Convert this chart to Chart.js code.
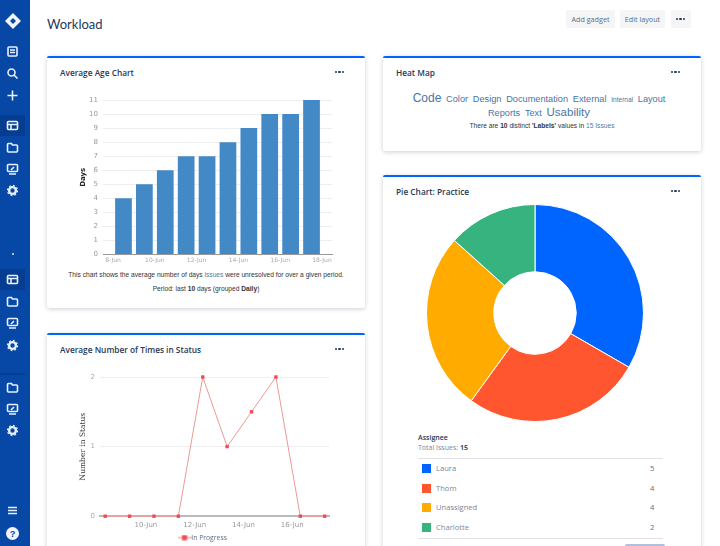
<!DOCTYPE html>
<html><head><meta charset="utf-8">
<script src="https://cdn.jsdelivr.net/npm/chart.js@4"></script>
<style>
html,body{margin:0;padding:0;width:720px;height:546px;overflow:hidden;background:#fff;font-family:"Liberation Sans",Arial,sans-serif;color:#172b4d}
.abs,canvas{position:absolute}
#side{position:absolute;left:0;top:0;width:30px;height:546px;background:#0747a6}
.hl{position:absolute;left:0;width:25px;height:21px;background:#063d90}
.ic{position:absolute;left:6px;width:13px;height:13px;fill:none;stroke:#e8f0fb;stroke-width:1.6}
.card{position:absolute;background:#fff;border-top:2px solid #0065ff;border-radius:2px;box-shadow:0 1px 4px rgba(9,30,66,.22);box-sizing:border-box}
.title{position:absolute;font:600 8.3px "Open Sans",sans-serif;color:#253858;white-space:nowrap}
.dots{position:absolute;width:9px;height:3px;display:flex;justify-content:space-between}
.dots i{width:2.2px;height:2.2px;border-radius:50%;background:#253858;display:block}
.btn{position:absolute;top:10px;height:18px;background:#f4f5f7;border-radius:2px;font:7.2px/18px "Open Sans",sans-serif;color:#5e6c84;text-align:center}
.cap{position:absolute;font:6.65px "Liberation Sans",sans-serif;color:#333;text-align:center;white-space:nowrap}
.cap a{color:#4a7ba6}
#cloud{position:absolute;left:393px;top:91px;width:292px;text-align:center;line-height:11px;font-family:"Liberation Sans",sans-serif;color:#4a74a3}
#cloud span{margin:0 2.4px;white-space:nowrap;display:inline-block;line-height:11px}
.lg{position:absolute;font:7.6px "Open Sans",sans-serif;color:#7a869a;white-space:nowrap}
</style></head><body>
<div id="side">
<div class="hl" style="top:115px"></div><div class="hl" style="top:269px"></div>
<div class="abs" style="left:0;top:373px;width:25px;height:2px;background:#063d90"></div>
<div class="abs" style="left:11.5px;top:253px;width:2px;height:2px;background:#dfe8f6;border-radius:50%"></div>
</div>
<div class="abs" style="left:47px;top:16px;font:13px Lato,sans-serif;color:#253858">Workload</div>
<div class="btn" style="left:566px;width:49px">Add gadget</div>
<div class="btn" style="left:620px;width:45px">Edit layout</div>
<div class="btn" style="left:671px;width:20px;"></div>
<div class="dots" style="left:676px;top:18px"><i></i><i></i><i></i></div>

<div class="card" style="left:47px;top:56px;width:318px;height:252px"></div>
<div class="card" style="left:47px;top:333px;width:318px;height:230px"></div>
<div class="card" style="left:383px;top:56px;width:318px;height:95px"></div>
<div class="card" style="left:383px;top:175px;width:318px;height:390px"></div>

<div class="title" style="left:60px;top:67px">Average Age Chart</div>
<div class="title" style="left:60px;top:344px">Average Number of Times in Status</div>
<div class="title" style="left:396px;top:67px">Heat Map</div>
<div class="title" style="left:396px;top:186px">Pie Chart: Practice</div>
<div class="dots" style="left:335px;top:71px"><i></i><i></i><i></i></div>
<div class="dots" style="left:335px;top:348px"><i></i><i></i><i></i></div>
<div class="dots" style="left:671px;top:71px"><i></i><i></i><i></i></div>
<div class="dots" style="left:671px;top:190px"><i></i><i></i><i></i></div>

<canvas id="bar" style="left:77px;top:90px;width:268px;height:180px" width="268" height="180"></canvas>
<div class="cap" style="left:47px;top:271px;width:318px"><span>This chart shows the average number of days <a>issues</a> were unresolved for over a given period.</span></div>
<div class="cap" style="left:47px;top:285px;width:318px">Period: last <b>10</b> days (grouped <b>Daily</b>)</div>

<canvas id="line" style="left:77px;top:365px;width:256px;height:186px" width="256" height="186"></canvas>

<div id="cloud"></div>
<div class="cap" style="left:383px;top:122px;width:318px">There are <b>10</b> distinct <b>'Labels'</b> values in <a>15</a> <a>Issues</a></div>

<canvas id="pie" style="left:420px;top:198px;width:230px;height:230px" width="230" height="230"></canvas>
<div class="abs" style="left:418px;top:433px;font:600 7px 'Open Sans',sans-serif;color:#253858">Assignee</div>
<div class="lg" style="left:418px;top:443px;font-size:7px">Total Issues: <b style="color:#42526e">15</b></div>
<div class="abs" style="left:418px;top:458px;width:245px;height:1px;background:#dfe1e6"></div>
<div class="abs" style="left:418px;top:538px;width:245px;height:1px;background:#dfe1e6"></div>
<div class="abs" style="left:625px;top:544px;width:40px;height:2px;background:#b3c0dd;border-radius:2px 2px 0 0"></div>
<div id="rows"></div>

<script>
// ---- data ----
const barDays   = [8.5, 9.5, 10.5, 11.5, 12.5, 13.5, 14.5, 15.5, 16.5, 17.5];
const barValues = [4, 5, 6, 7, 7, 8, 9, 10, 10, 11];
const barTicks  = [8, 10, 12, 14, 16, 18];
const lineDays   = [8.33, 9.33, 10.33, 11.33, 12.33, 13.33, 14.33, 15.33, 16.33, 17.33];
const lineValues = [0, 0, 0, 0, 2, 1, 1.5, 2, 0, 0];
const lineTicks  = [10, 12, 14, 16];
const pieLabels = ['Laura', 'Thom', 'Unassigned', 'Charlotte'];
const pieValues = [5, 4, 4, 2];
const pieColors = ['#0065ff', '#ff5630', '#ffab00', '#36b37e'];
const cloudWords = ['Code','Color','Design','Documentation','External','Internal','Layout','Reports','Text','Usability'];
const cloudSizes = [12, 9.2, 9.2, 9.2, 9.2, 6.5, 9.2, 9.2, 9.2, 11.5];

// ---- page furniture ----
const icons = {
 board:'<rect x="2" y="2" width="9" height="9" rx="1"/><path d="M4 5h5M4 7.5h5"/>',
 search:'<circle cx="5.5" cy="5.5" r="3.5"/><path d="M8 8l3.5 3.5"/>',
 plus:'<path d="M6.5 1.5v10M1.5 6.5h10"/>',
 panel:'<rect x="1.5" y="2.5" width="10" height="8" rx="1"/><path d="M1.5 5.5h10M5 5.5v5"/>',
 folder:'<path d="M1.5 3.5a1 1 0 0 1 1-1h3l1 1.5h4a1 1 0 0 1 1 1v5a1 1 0 0 1-1 1h-8a1 1 0 0 1-1-1z"/>',
 screen:'<rect x="1.5" y="1.5" width="10" height="7" rx="1"/><path d="M3 11h7M5 7l3-3"/>',
 gear:'<circle cx="6.5" cy="6.5" r="3.4" stroke-width="2.4"/><circle cx="6.5" cy="6.5" r="5" stroke-dasharray="1.8 2.1" stroke-width="1.3"/>',
 menu:'<path d="M2 3.5h9M2 6.5h9M2 9.5h9"/>'
};
const iconAt = [['board',51],['search',73],['plus',95],['panel',125],['folder',147],['screen',169],['gear',190],
 ['panel',279],['folder',301],['screen',323],['gear',345],['folder',387],['screen',409],['gear',430],['menu',510]];
const side = document.getElementById('side');
iconAt.forEach(([k,y])=>{ side.insertAdjacentHTML('beforeend',`<svg class="ic" viewBox="0 0 13 13" style="top:${y-6.5}px">${icons[k]}</svg>`); });
side.insertAdjacentHTML('beforeend','<svg class="abs" viewBox="0 0 16 16" style="left:5px;top:13px;width:16px;height:16px"><path d="M8 0l8 8-8 8-8-8z" fill="#f2f6fc"/><path d="M8 5l3 3-3 3-3-3z" fill="#0747a6"/></svg>');
side.insertAdjacentHTML('beforeend','<svg class="abs" viewBox="0 0 14 14" style="left:6px;top:527px;width:13px;height:13px"><circle cx="7" cy="7" r="7" fill="#f2f6fc"/><text x="7" y="10.5" text-anchor="middle" font-size="10" font-weight="700" font-family="Liberation Sans" fill="#0747a6">?</text></svg>');

document.getElementById('cloud').innerHTML = cloudWords.map((w,i)=>`<span style="font-size:${cloudSizes[i]}px">${w}</span>`).join('');
document.getElementById('rows').innerHTML = pieLabels.map((l,i)=>{
  const y = 464 + i*19.6;
  return `<div class="abs" style="left:422px;top:${y}px;width:9px;height:9px;background:${pieColors[i]}"></div>`+
         `<div class="lg" style="left:436px;top:${y-1}px">${l}</div>`+
         `<div class="lg" style="left:650px;top:${y-1}px;color:#5e6c84">${pieValues[i]}</div>`;
}).join('');

// ---- charts ----
const fixW = w => s => { s.width = w; };
const fixH = h => s => { s.height = h; };
const tickFont = {family:'"DejaVu Sans"', size:7};

new Chart(document.getElementById('bar'), {
  type:'bar',
  data:{datasets:[{data:barDays.map((d,i)=>({x:d,y:barValues[i]})), backgroundColor:'#4289c6', borderWidth:0, barPercentage:0.8, categoryPercentage:1}]},
  options:{responsive:false, animation:false,
    layout:{padding:{top:10,right:13,left:0,bottom:0}},
    plugins:{legend:{display:false},tooltip:{enabled:false}},
    scales:{
      x:{type:'linear',offset:false,min:7.52,max:18.48,afterFit:fixH(15.5),
         afterBuildTicks:a=>{a.ticks=barTicks.map(v=>({value:v}));},
         grid:{display:false,offset:false,tickLength:1},border:{color:'#999',width:1},
         ticks:{color:'#aaa',padding:1,font:{family:'"DejaVu Sans"',size:6},maxRotation:0,autoSkip:false,callback:v=>v+'-Jun'}},
      y:{min:0,max:11,afterFit:fixW(26),
         grid:{color:'#eeeeee',drawTicks:false},border:{display:false},
         ticks:{stepSize:1,color:'#999',font:tickFont,padding:5},
         title:{display:true,text:'Days',color:'#222',font:{family:'"DejaVu Sans"',size:7,weight:'bold'},padding:{top:2,bottom:0}}}
    }}
});

const mk = document.createElement('canvas'); mk.width=14; mk.height=6;
(c=>{c.strokeStyle='#e88';c.lineWidth=1;c.beginPath();c.moveTo(0,3);c.lineTo(14,3);c.stroke();c.fillStyle='#f44a4f';c.fillRect(4.5,.5,5,5);})(mk.getContext('2d'));

new Chart(document.getElementById('line'), {
  type:'line',
  data:{datasets:[{label:'In Progress',data:lineDays.map((d,i)=>({x:d,y:lineValues[i]})),clip:false,
    borderColor:'#eb9a96',borderWidth:1,tension:0,pointStyle:'rect',pointRadius:2.4,pointBackgroundColor:'#f44a4f',pointBorderWidth:0}]},
  options:{responsive:false,animation:false,
    layout:{padding:{top:12,right:2,left:0,bottom:0}},
    plugins:{tooltip:{enabled:false},
      legend:{position:'bottom',labels:{usePointStyle:true,pointStyle:mk,boxHeight:6,padding:3,color:'#5e6c84',font:{family:'"Open Sans"',size:6.8},
        generateLabels:ch=>[{text:ch.data.datasets[0].label,pointStyle:mk,fillStyle:'#f44a4f',strokeStyle:'#f44a4f',lineWidth:0,fontColor:'#5e6c84'}]}}},
    scales:{
      x:{type:'linear',min:8.117,max:17.507,afterFit:fixH(15),
         afterBuildTicks:a=>{a.ticks=lineTicks.map(v=>({value:v}));},
         grid:{display:false,tickLength:2},border:{color:'#bbb',width:2},
         ticks:{color:'#999',font:tickFont,maxRotation:0,autoSkip:false,callback:v=>v+'-Jun'}},
      y:{min:0,max:2,afterFit:fixW(23),
         grid:{color:'#eeeeee',drawTicks:false},border:{display:false},
         ticks:{stepSize:1,color:'#aaa',font:tickFont,padding:5},
         title:{display:true,text:'Number in Status',color:'#3a3a3a',font:{family:'"DejaVu Serif"',size:7.5},padding:{top:2,bottom:0}}}
    }}
});

new Chart(document.getElementById('pie'), {
  type:'doughnut',
  data:{labels:pieLabels,datasets:[{data:pieValues,backgroundColor:pieColors,borderColor:'#fff',borderWidth:1}]},
  options:{responsive:false,animation:false,cutout:'38%',
    layout:{padding:6},
    plugins:{legend:{display:false},tooltip:{enabled:false}}}
});
</script>
</body></html>
